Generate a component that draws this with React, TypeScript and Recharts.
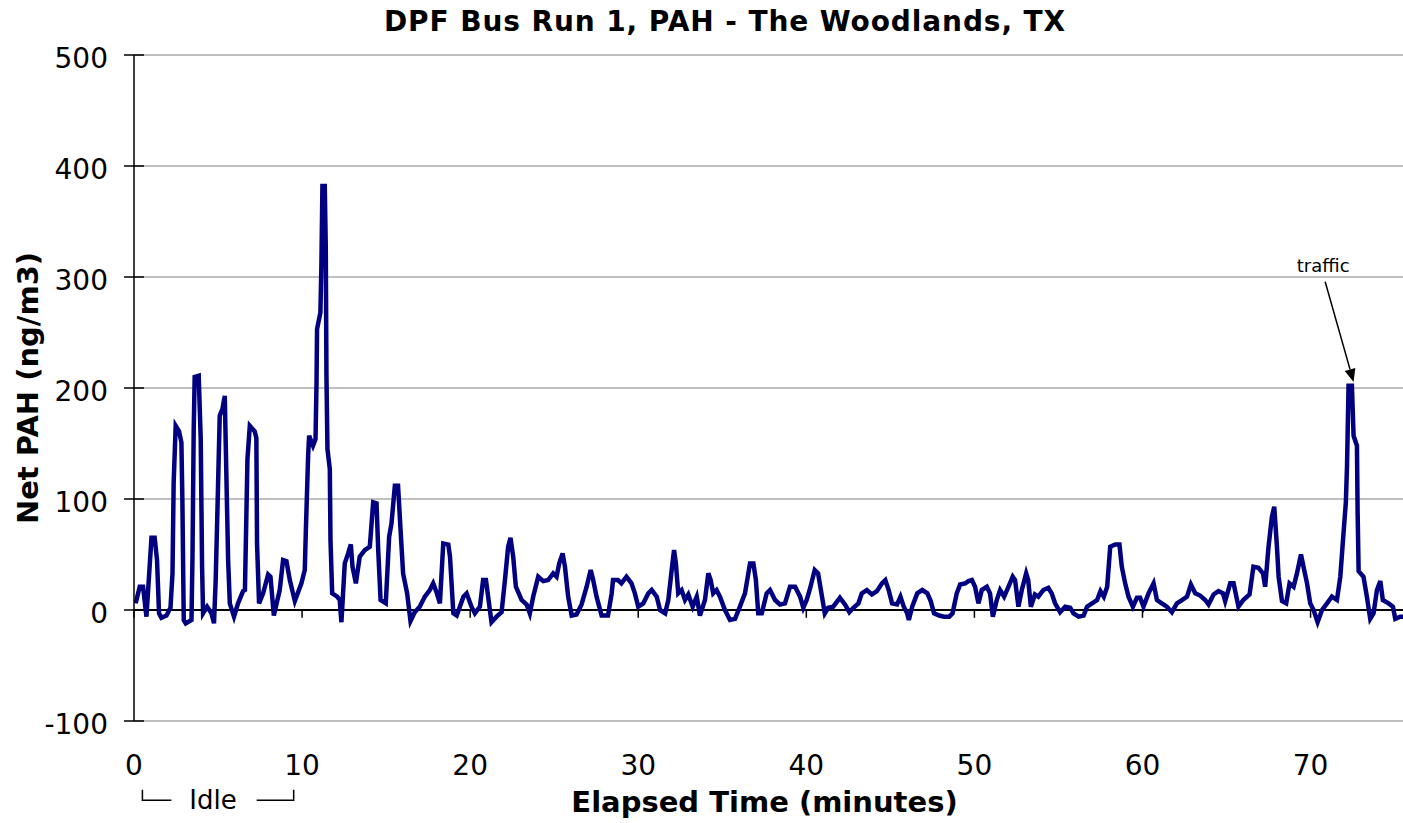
import React from "react";
import {
  LineChart,
  Line,
  XAxis,
  YAxis,
  CartesianGrid,
  ReferenceLine,
} from "recharts";

// elapsed time (minutes) and net PAH (ng/m3)
const minutes = [
  0.1, 0.34, 0.54, 0.74, 0.93, 1.04, 1.23, 1.37, 1.49, 1.63, 1.93, 2.17, 2.29, 2.36, 2.48, 2.68, 2.82, 2.88, 2.96, 3.08,
  3.42, 3.48, 3.55, 3.61, 3.85, 3.97, 4.05, 4.11, 4.35, 4.61, 4.76, 4.86, 5.0, 5.1, 5.26, 5.4, 5.46, 5.6, 5.7, 5.95,
  6.19, 6.49, 6.6, 6.75, 6.89, 7.18, 7.28, 7.32, 7.44, 7.68, 7.98, 8.12, 8.32, 8.67, 8.87, 9.07, 9.27, 9.57, 9.96, 10.16,
  10.22, 10.36, 10.42, 10.65, 10.8, 10.86, 10.89, 11.09, 11.15, 11.21, 11.35, 11.41, 11.45, 11.51, 11.65, 11.69, 11.79, 12.09, 12.24, 12.34,
  12.54, 12.74, 12.9, 13.0, 13.2, 13.43, 13.73, 14.03, 14.23, 14.43, 14.53, 14.67, 14.98, 15.18, 15.32, 15.52, 15.71, 15.86, 16.01, 16.25,
  16.45, 16.7, 17.0, 17.3, 17.6, 17.8, 18.0, 18.2, 18.4, 18.7, 18.8, 19.0, 19.2, 19.6, 19.79, 20.08, 20.28, 20.58, 20.77, 20.94,
  21.07, 21.27, 21.57, 21.87, 22.07, 22.26, 22.4, 22.56, 22.72, 23.06, 23.36, 23.55, 23.75, 24.05, 24.35, 24.64, 24.94, 25.14, 25.3, 25.5,
  25.64, 25.83, 26.04, 26.33, 26.63, 26.93, 27.17, 27.32, 27.52, 27.82, 28.2, 28.42, 28.5, 28.8, 29.0, 29.3, 29.6, 29.8, 30.0, 30.3,
  30.6, 30.8, 31.1, 31.3, 31.6, 31.79, 31.99, 32.13, 32.24, 32.38, 32.58, 32.78, 32.98, 33.24, 33.48, 33.67, 33.97, 34.17, 34.31, 34.46,
  34.66, 34.86, 35.16, 35.46, 35.76, 36.05, 36.35, 36.65, 36.85, 37.0, 37.14, 37.35, 37.64, 37.84, 38.14, 38.43, 38.73, 39.03, 39.33, 39.63,
  39.82, 40.02, 40.2, 40.5, 40.7, 40.9, 41.1, 41.3, 41.6, 42.0, 42.3, 42.56, 42.8, 43.1, 43.3, 43.6, 43.9, 44.2, 44.5, 44.7,
  44.9, 45.1, 45.4, 45.6, 45.8, 46.0, 46.1, 46.3, 46.6, 46.9, 47.2, 47.4, 47.6, 47.9, 48.2, 48.5, 48.7, 48.95, 49.15, 49.45,
  49.65, 49.85, 50.04, 50.24, 50.44, 50.74, 50.93, 51.1, 51.33, 51.53, 51.77, 52.03, 52.28, 52.42, 52.62, 52.82, 53.08, 53.2, 53.36, 53.6,
  53.8, 54.1, 54.4, 54.6, 54.8, 55.1, 55.4, 55.7, 55.9, 56.2, 56.5, 56.7, 57.0, 57.3, 57.5, 57.7, 57.9, 58.08, 58.38, 58.63,
  58.77, 58.97, 59.17, 59.43, 59.67, 59.86, 60.06, 60.36, 60.66, 60.86, 61.15, 61.45, 61.75, 62.05, 62.35, 62.65, 62.88, 63.14, 63.43, 63.73,
  63.93, 64.23, 64.52, 64.79, 64.92, 65.22, 65.42, 65.71, 66.0, 66.37, 66.6, 66.9, 67.17, 67.3, 67.5, 67.7, 67.84, 68.0, 68.1, 68.3,
  68.55, 68.75, 68.99, 69.19, 69.43, 69.58, 69.79, 69.98, 70.18, 70.42, 70.68, 70.98, 71.27, 71.57, 71.77, 71.96, 72.1, 72.17, 72.26, 72.46,
  72.56, 72.76, 72.8, 72.86, 73.15, 73.35, 73.55, 73.75, 73.95, 74.15, 74.3, 74.64, 74.9, 75.04, 75.34, 75.5,
];

const netPah = [
  6, 21, 21, -6, 39, 65, 65, 45, -3, -7, -5, 2, 33, 115, 166, 161, 151, 97, -9, -12,
  -9, 48, 160, 210, 211, 154, 39, -3, 3, -3, -12, 27, 112, 175, 181, 193, 148, 45, 6, -6,
  6, 17, 18, 136, 166, 161, 155, 60, 6, 15, 32, 30, -5, 18, 45, 44, 27, 8, 24, 36,
  69, 139, 157, 148, 154, 205, 253, 268, 311, 382, 382, 326, 211, 145, 127, 63, 15, 12, 9, -11,
  42, 51, 59, 39, 24, 48, 54, 57, 97, 96, 54, 9, 6, 66, 78, 112, 112, 72, 33, 15,
  -10, -2, 3, 12, 18, 24, 16, 6, 60, 59, 48, -3, -5, 12, 15, 3, -3, 3, 27, 27,
  12, -11, -6, -2, 27, 57, 65, 48, 21, 9, 5, -3, 12, 30, 26, 27, 33, 30, 42, 51,
  39, 12, -5, -4, 5, 21, 36, 27, 12, -5, -5, 15, 27, 27, 24, 30, 24, 15, 3, 6,
  15, 18, 12, 0, -3, 9, 36, 54, 42, 15, 18, 9, 14, 3, 12, -5, 9, 33, 27, 15,
  18, 12, 0, -9, -8, 3, 15, 42, 42, 27, -3, -3, 15, 18, 9, 5, 6, 21, 21, 12,
  2, 9, 18, 36, 33, 15, -3, 2, 3, 11, 5, -2, 2, 6, 15, 18, 14, 17, 24, 27,
  18, 6, 5, 12, 3, -3, -9, 3, 15, 18, 15, 8, -3, -5, -6, -6, -3, 15, 23, 24,
  26, 27, 21, 6, 18, 21, 15, -6, 9, 18, 12, 21, 30, 27, 3, 18, 33, 27, 3, 14,
  12, 18, 20, 15, 6, -2, 3, 2, -3, -6, -5, 3, 6, 9, 17, 12, 21, 57, 59, 59,
  39, 24, 12, 3, 11, 11, 3, 15, 24, 9, 6, 3, -2, 6, 9, 12, 23, 15, 13, 9,
  5, 14, 17, 15, 8, 24, 24, 3, 9, 14, 39, 38, 33, 21, 57, 84, 93, 57, 30, 8,
  6, 24, 21, 33, 50, 39, 24, 6, 0, -11, 0, 6, 12, 9, 30, 69, 97, 130, 202, 202,
  157, 148, 88, 35, 30, 12, -8, -3, 18, 26, 9, 6, 3, -8, -6, -6,
];

const xTicks = [0, 10, 20, 30, 40, 50, 60, 70];
const yTicks = [-100, 0, 100, 200, 300, 400, 500];

const data = minutes.map((t, i) => ({ t, v: netPah[i] }));

const YTick = (props: any) => {
  const { x, y, payload } = props;
  return (
    <g>
      <line x1={x - 10} x2={x + 10} y1={y} y2={y} stroke="#000" strokeWidth={1.5} />
      <text x={x - 26} y={y + 12.5} textAnchor="end" fontSize={28} fill="#000">
        {payload.value}
      </text>
    </g>
  );
};

const IdleBracket = (props: any) => {
  const { x1, y1, x2, y2 } = props;
  return (
    <g stroke="#000" strokeWidth={1.5} fill="none">
      <polyline points={`${x1},${y1} ${x1},${y2} ${x1 + 29},${y2}`} />
      <polyline points={`${x2 - 37},${y2} ${x2},${y2} ${x2},${y1}`} />
      <text x={(x1 + x2) / 2 - 5} y={y2 + 9} textAnchor="middle" fontSize={26} fill="#000" stroke="none">
        Idle
      </text>
    </g>
  );
};

const TrafficArrow = (props: any) => {
  const { x1, y1, x2, y2 } = props;
  const dx = x2 - x1;
  const dy = y2 - y1;
  const len = Math.sqrt(dx * dx + dy * dy);
  const ux = dx / len;
  const uy = dy / len;
  const bx = x2 - ux * 13;
  const by = y2 - uy * 13;
  return (
    <g>
      <line x1={x1} y1={y1} x2={bx} y2={by} stroke="#000" strokeWidth={1.5} />
      <polygon
        points={`${x2},${y2} ${bx - uy * 5.5},${by + ux * 5.5} ${bx + uy * 5.5},${by - ux * 5.5}`}
        fill="#000"
      />
      <text x={x1 - 2} y={y1 - 10} textAnchor="middle" fontSize={18} fill="#000">
        traffic
      </text>
    </g>
  );
};

export default function App() {
  return (
    <div
      style={{
        position: "absolute",
        left: 0,
        top: 0,
        width: 1403,
        height: 823,
        background: "#fff",
        fontFamily: "DejaVu Sans, Verdana, sans-serif",
      }}
    >
      <div
        style={{
          position: "absolute",
          left: 725,
          top: 8,
          transform: "translateX(-50%)",
          whiteSpace: "nowrap",
          fontSize: 28,
          lineHeight: "28px",
          letterSpacing: 0.9,
          fontWeight: "bold",
        }}
      >
        DPF Bus Run 1, PAH - The Woodlands, TX
      </div>
      <LineChart
        width={1403}
        height={823}
        data={data}
        margin={{ top: 55, right: 0, bottom: 0, left: 0 }}
      >
        <CartesianGrid vertical={false} stroke="#c0c0c0" strokeWidth={2} />
        <XAxis
          type="number"
          dataKey="t"
          domain={[0, 75.5]}
          allowDataOverflow
          ticks={xTicks}
          height={102}
          axisLine={false}
          tickLine={false}
          tickSize={0}
          tickMargin={34}
          tick={{ fontSize: 28, fill: "#000" }}
          label={{
            value: "Elapsed Time (minutes)",
            position: "insideBottom",
            offset: 11,
            dx: -4,
            style: { fontSize: 29, fontWeight: "bold", fill: "#000" },
          }}
        />
        <YAxis
          domain={[-100, 500]}
          ticks={yTicks}
          width={134}
          axisLine={{ stroke: "#000", strokeWidth: 1.5 }}
          tickLine={false}
          tickSize={0}
          tickMargin={0}
          tick={<YTick />}
          label={{
            value: "Net PAH (ng/m3)",
            angle: -90,
            position: "insideLeft",
            offset: 28,
            style: { fontSize: 29, fontWeight: "bold", fill: "#000", textAnchor: "middle" },
          }}
        />
        <ReferenceLine y={0} stroke="#000" strokeWidth={2} />
        {xTicks.map((t) => (
          <ReferenceLine
            key={t}
            segment={[
              { x: t, y: 0 },
              { x: t, y: -7 },
            ]}
            stroke="#000"
            strokeWidth={1.5}
          />
        ))}
        <ReferenceLine
          segment={[
            { x: 0.5, y: -162 },
            { x: 9.5, y: -171.5 },
          ]}
          ifOverflow="visible"
          shape={<IdleBracket />}
        />
        <ReferenceLine
          segment={[
            { x: 70.87, y: 295.7 },
            { x: 72.56, y: 205.5 },
          ]}
          ifOverflow="visible"
          shape={<TrafficArrow />}
        />
        <Line
          type="linear"
          dataKey="v"
          stroke="#000080"
          strokeWidth={4.5}
          dot={false}
          isAnimationActive={false}
        />
      </LineChart>
    </div>
  );
}
